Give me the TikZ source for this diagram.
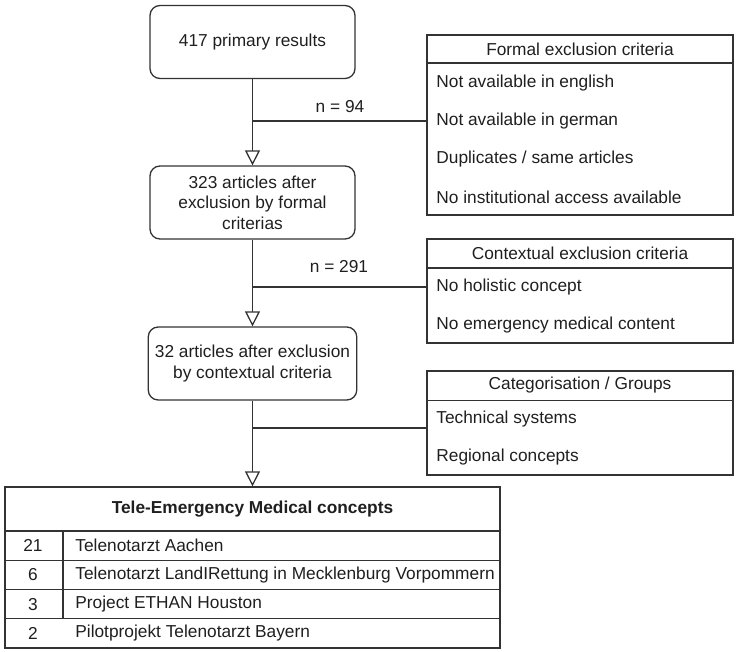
\documentclass[tikz,border=0pt]{standalone}
\usepackage{fontspec}
\setmainfont{Liberation Sans}
\usetikzlibrary{arrows.meta,positioning}
\definecolor{linegray}{HTML}{333333}

\begin{document}
\begin{tikzpicture}[x=0.5pt, y=-0.5pt,
    font=\fontsize{8.65}{10.3}\selectfont, text=black!88,
    stepbox/.style={draw=linegray, line width=0.65pt, rounded corners=5pt,
        minimum width=102.5pt, minimum height=36.5pt, align=center},
    listbox/.style={draw=linegray, line width=0.65pt, minimum width=153pt},
    rowbox/.style={draw=linegray, line width=0.65pt, minimum width=247.5pt, minimum height=14.65pt},
    item/.style={anchor=west, inner sep=0pt},
    flow/.style={draw=linegray, line width=0.65pt},
    tip/.style={flow, -{Triangle[open, length=7.5pt, width=7.5pt]}}]
    \useasboundingbox (0,0) rectangle (739,652);

    % Main flow boxes
    \node[stepbox] (primary) at (252.5,42) {417 primary results};
    \node[stepbox] (formalres) at (252.5,202.5) {323 articles after\\exclusion by formal\\criterias};
    \node[stepbox] (contextres) at (252.5,363.5) {32 articles after exclusion\\by contextual criteria};

    % Result table
    \node[rowbox, minimum height=22pt, font=\fontsize{8.65}{10.3}\selectfont\bfseries] (concepts) at (252.5,509)
        {Tele-Emergency Medical concepts};
    \foreach \num/\txt [count=\i] in {21/Telenotarzt Aachen,
            6/Telenotarzt LandIRettung in Mecklenburg Vorpommern,
            3/Project ETHAN Houston, 2/Pilotprojekt Telenotarzt Bayern} {
        \node[rowbox] (row\i) at (252.5,{531+29.25*(\i-0.5)}) {};
        \node (num\i) at (33,{531+29.25*(\i-0.5)}) {\num};
        \node[item] (name\i) at (75,{531+29.25*(\i-0.5)}) {\txt};
    }
    % column divider (first three rows only)
    \draw[flow] (63,531) -- (63,618);

    % Formal exclusion criteria
    \node[listbox, minimum height=90pt] (formal) at (580,125) {};
    \node[listbox, minimum height=14pt] (formalhead) at (580,49) {Formal exclusion criteria};
    \foreach \txt [count=\i] in {Not available in english, Not available in german,
            Duplicates / same articles, No institutional access available}
        \node[item] (formal\i) at (436,{45+38*\i}) {\txt};

    % Contextual exclusion criteria
    \node[listbox, minimum height=52pt] (context) at (580,291) {};
    \node[listbox, minimum height=14.5pt] (contexthead) at (580,253.5) {Contextual exclusion criteria};
    \foreach \txt [count=\i] in {No holistic concept, No emergency medical content}
        \node[item] (context\i) at (436,{249+38*\i}) {\txt};

    % Categorisation / Groups
    \node[listbox, minimum height=52pt] (groups) at (580,423) {};
    \node[listbox, minimum height=14.5pt] (groupshead) at (580,385.5) {Categorisation / Groups};
    \foreach \txt [count=\i] in {Technical systems, Regional concepts}
        \node[item] (groups\i) at (436,{381+38*\i}) {\txt};

    % Flow arrows
    \draw[tip] (primary) -- (formalres);
    \draw[tip] (formalres) -- (contextres);
    \draw[tip] (contextres) -- (concepts);

    % Branches to the side boxes
    \coordinate (j1) at (252.5,121);
    \coordinate (j2) at (252.5,287);
    \coordinate (j3) at (252.5,428);
    \draw[flow] (j1) -- (j1 -| formal.west);
    \draw[flow] (j2) -- (j2 -| context.west);
    \draw[flow] (j3) -- (j3 -| groups.west);
    \node (n1) at (340,107) {n = 94};
    \node (n2) at (339,267) {n = 291};
\end{tikzpicture}
\end{document}
